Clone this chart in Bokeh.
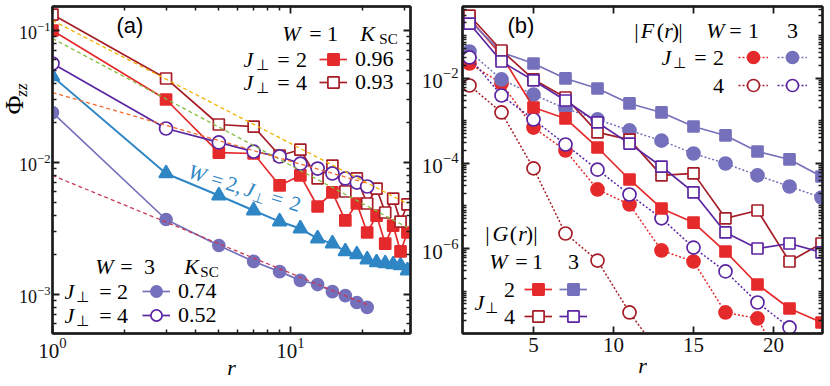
import math
from bokeh.plotting import figure
from bokeh.models import (Label, Legend, LegendItem, FixedTicker, LogAxis, LinearAxis, Range1d,
                          CustomJSTickFormatter, Title)
from bokeh.layouts import row
from bokeh.embed import file_html
from bokeh.resources import INLINE

# ---------------- panel (a): Phi_zz(r) ----------------
r_long = [1, 3, 5, 7, 9, 11, 13, 15, 17, 19, 21, 23, 25, 27, 29, 31]
r_short = [1, 3, 5, 7, 9, 11, 13, 15, 17, 19, 21]
phi_w1_j2 = [0.100, 0.030, 0.0119, 0.0117, 0.0067, 0.00798, 0.00464, 0.00593,
             0.00364, 0.00489, 0.00295, 0.00396, 0.00243, 0.00333, 0.00212, 0.00295]
phi_w1_j4 = [0.132, 0.0433, 0.0194, 0.0187, 0.0113, 0.0125, 0.00757, 0.00948,
             0.00603, 0.00757, 0.00489, 0.00635, 0.00418, 0.00533, 0.00357, 0.00481]
phi_w2_j2 = [0.0449, 0.00826, 0.00562, 0.00433, 0.00357, 0.00316, 0.00265, 0.00243,
             0.00212, 0.00201, 0.00184, 0.00175, 0.00172, 0.00169, 0.00166, 0.00152]
phi_w3_j2 = [0.0239, 0.0037, 0.00235, 0.00178, 0.00149, 0.00128, 0.00119, 0.00105,
             0.00098, 0.00087, 0.00080]
phi_w3_j4 = [0.0562, 0.0181, 0.0142, 0.0121, 0.0111, 0.0098, 0.0090, 0.00826,
             0.00757, 0.00705, 0.00658]
fit_r_long = [1, 31]
fit_r_short = [1, 21]
fit_w1_j4 = [0.119, 0.00487]    # K_SC = 0.93
fit_w1_j2 = [0.087, 0.00322]    # K_SC = 0.96
fit_w3_j4 = [0.0339, 0.00695]   # K_SC = 0.52
fit_w3_j2 = [0.00798, 0.000837] # K_SC = 0.74
ksc_w1 = ["0.96", "0.93"]
ksc_w3 = ["0.74", "0.52"]

# ---------------- panel (b): |G(r)|, |F(r)| ----------------
r_b = [1, 3, 5, 7, 9, 11, 13, 15, 17, 19, 21, 23]
G_w1_j2 = [0.25, 0.034, 2.04e-3, 1.13e-3, 2.35e-4, 4.17e-5, 8.7e-6, 4.07e-6, 8.5e-7, 1.43e-7, 3.9e-8, 1.83e-8]
G_w1_j4 = [0.294, 0.0445, 9.3e-3, 3.5e-3, 5.3e-4, 3.6e-4, 5.2e-5, 5.8e-5, 5.1e-6, 7.8e-6, 4.95e-7, 1.31e-6]
G_w3_j2 = [0.225, 0.040, 0.022, 9.8e-3, 5.7e-3, 2.54e-3, 1.56e-3, 7.3e-4, 4.5e-4, 1.89e-4, 1.23e-4, 4.9e-5]
G_w3_j4 = [0.191, 0.0245, 8.8e-3, 2.98e-3, 9.1e-4, 2.9e-4, 8.4e-5, 2.07e-5, 2.38e-6, 1.0e-6, 1.31e-6, 8.1e-7]
F_w1_j2 = [0.022, 7.5e-3, 6.9e-4, 2.0e-4, 2.43e-5, 1.08e-5, 9.0e-7, 4.95e-7, 3.15e-8, 2.28e-8, 9e-10]
F_w1_j4 = [6.7e-3, 1.56e-3, 7.6e-5, 2.25e-6, 5.2e-7, 3.15e-8, 3e-9]
F_w3_j2 = [0.042, 9.3e-3, 4.1e-3, 1.93e-3, 1.07e-3, 5.9e-4, 3.4e-4, 1.70e-4, 9.9e-5, 5.2e-5, 2.85e-5, 1.57e-5]
F_w3_j4 = [0.0305, 3.9e-3, 1.07e-3, 2.76e-4, 7.1e-5, 1.85e-5, 5.1e-6, 1.05e-6, 2.9e-7, 5.4e-8, 1.40e-8]

# ---------------- styling ----------------
RED = "#e52a2c"
DRED = "#a51d27"
SLATE = "#7570bb"
VIOLET = "#5b25a2"
BLUE = "#2f86c5"
YEL = "#f2b400"
GRN = "#84bd3c"
ORG = "#f26b2c"
CRIM = "#c73a55"
INK = "#1c1c1c"
SERIF = "Liberation Serif"
SANS = "Liberation Sans"

H = 386
FA = dict(left=52, right=410, top=6, bottom=333)
FB = dict(left=462, right=822, top=6, bottom=333)

def conv_a(px, py):
    return 10 ** ((px - 52) / 238.0), 10 ** (-1 - (py - 30) / 132.0)

def conv_b(px, py):
    return 5 + (px - 533) / 16.0, 10 ** (-6 + (248 - py) / 42.6)


def style_axis(ax, labels=True, fs="21px", standoff=4):
    ax.axis_line_width = 2.4
    ax.axis_line_color = INK
    ax.major_tick_in = 7
    ax.major_tick_out = 0
    ax.minor_tick_in = 4
    ax.minor_tick_out = 0
    ax.major_tick_line_width = 1.8
    ax.minor_tick_line_width = 1.5
    ax.major_tick_line_color = INK
    ax.minor_tick_line_color = INK
    if labels:
        ax.major_label_text_font = SERIF
        ax.major_label_text_font_size = fs
        ax.major_label_standoff = standoff
        ax.major_label_text_color = "#111111"
    else:
        ax.formatter = CustomJSTickFormatter(code="return ''")
        ax.major_label_text_font_size = "1px"
        ax.major_label_standoff = 0


def r_label(ax, standoff):
    ax.axis_label = "r"
    ax.axis_label_text_font = SERIF
    ax.axis_label_text_font_size = "22px"
    ax.axis_label_text_font_style = "italic"
    ax.axis_label_text_color = "black"
    ax.axis_label_standoff = standoff


def mtext(p, conv, y, segs, size=22, color="black", angle=0.0):
    for cx, txt, kind in segs:
        sub = kind in ("s", "si")
        fs = size * 0.68 if sub else size
        dy = 5 if sub else 0
        X, Y = conv(cx, y + dy)
        font = "DejaVu Sans" if txt == "⊥" else SERIF
        p.add_layout(Label(x=X, y=Y, text=txt, text_font=font,
                           text_font_size=f"{fs:.1f}px",
                           text_font_style="italic" if kind in ("i", "si") else "normal",
                           text_align="center", text_baseline="middle",
                           text_color=color, angle=angle))


def glyph_legend(p, frame, renderers, label, left_px, cy_px, gw=28, gh=30,
                 standoff=8, fs="22px"):
    vx = left_px - frame["left"]
    vy = frame["bottom"] - (cy_px + gh / 2.0)
    leg = Legend(items=[LegendItem(label=label, renderers=renderers)],
                 location=(vx, vy), orientation="vertical", padding=0, margin=0,
                 spacing=0, glyph_width=gw, glyph_height=gh, label_standoff=standoff,
                 label_text_font=SERIF, label_text_font_size=fs, label_text_color="black",
                 background_fill_alpha=0, border_line_alpha=0)
    p.add_layout(leg)


def series(p, x, y, color, marker, size, filled, dash="solid", lw=1.7):
    l = p.line(x, y, line_color=color, line_width=lw, line_dash=dash)
    s = p.scatter(x, y, marker=marker, size=size, line_color=color, line_width=1.7,
                  fill_color=color if filled else "white")
    return [l, s]

# ======================= panel (a) =======================
pa = figure(width=FA["right"] + 4, height=H, x_axis_type="log", y_axis_type="log",
            x_range=Range1d(conv_a(FA["left"], 0)[0], conv_a(FA["right"], 0)[0]),
            y_range=Range1d(conv_a(0, FA["bottom"])[1], conv_a(0, FA["top"])[1]),
            output_backend="svg", toolbar_location=None,
            min_border_left=FA["left"], min_border_right=4, min_border_top=FA["top"],
            min_border_bottom=H - FA["bottom"])
pa.xgrid.visible = False
pa.ygrid.visible = False
pa.outline_line_color = INK
pa.outline_line_width = 2
pa.background_fill_color = "white"
pa.border_fill_color = "white"

xa_tick = FixedTicker(ticks=[1, 10], minor_ticks=[2, 3, 4, 5, 6, 7, 8, 9, 20, 30])
ya_minor = [m * 10.0 ** e for e in (-4, -3, -2, -1) for m in range(2, 10)]
ya_tick = FixedTicker(ticks=[1e-3, 1e-2, 1e-1], minor_ticks=ya_minor)
pa.xaxis[0].ticker = xa_tick
pa.yaxis[0].ticker = ya_tick
style_axis(pa.xaxis[0])
style_axis(pa.yaxis[0], fs="18px", standoff=2)
r_label(pa.xaxis[0], -6)
top_a = LogAxis(ticker=xa_tick)
right_a = LogAxis(ticker=ya_tick)
style_axis(top_a, labels=False)
style_axis(right_a, labels=False)
pa.add_layout(top_a, "above")
pa.add_layout(right_a, "right")
# y-axis title Phi_zz as two thin side-panel titles (Phi inner, subscript outer)
pa.add_layout(Title(text="Φ", align="right", vertical_align="middle", offset=89,
                    standoff=-27, text_font=SERIF, text_font_size="26px",
                    text_font_style="normal", text_color="black"), "left")
pa.add_layout(Title(text="\nzz", align="right", vertical_align="middle", offset=77,
                    standoff=-39, text_font=SERIF, text_font_size="17px",
                    text_font_style="italic", text_color="black"), "left")

s_w3j2 = series(pa, r_short, phi_w3_j2, SLATE, "circle", 12, True)
s_w2 = series(pa, r_long, phi_w2_j2, BLUE, "triangle", 14, True, lw=2)
s_w1j2 = series(pa, r_long, phi_w1_j2, RED, "square", 11, True)
s_w1j4 = series(pa, r_long, phi_w1_j4, DRED, "square", 11, False)
s_w3j4 = series(pa, r_short, phi_w3_j4, VIOLET, "circle", 13, False)

pa.line(fit_r_long, fit_w1_j4, line_color=YEL, line_width=1.3, line_dash="4 3")
pa.line(fit_r_long, fit_w1_j2, line_color=GRN, line_width=1.3, line_dash="4 3")
pa.line(fit_r_short, fit_w3_j4, line_color=ORG, line_width=1.3, line_dash="4 3")
pa.line(fit_r_short, fit_w3_j2, line_color=CRIM, line_width=1.3, line_dash="4 3")

X, Y = conv_a(116, 25)
pa.add_layout(Label(x=X, y=Y, text="(a)", text_font=SANS, text_font_size="22px",
                    text_align="left", text_baseline="middle", text_color="black"))
mtext(pa, conv_a, 33, [(291, "W", "i"), (315, "=", "n"), (332, "1", "n"),
                       (367, "K", "i"), (388, "SC", "s")])
mtext(pa, conv_a, 59, [(248, "J", "i"), (262, "⊥", "s"), (283, "=", "n"), (301, "2", "n")])
mtext(pa, conv_a, 82, [(248, "J", "i"), (262, "⊥", "s"), (283, "=", "n"), (301, "4", "n")])
glyph_legend(pa, FA, s_w1j2, ksc_w1[0], 319, 59)
glyph_legend(pa, FA, s_w1j4, ksc_w1[1], 319, 82)
mtext(pa, conv_a, 266, [(104, "W", "i"), (126, "=", "n"), (149, "3", "n"),
                        (191, "K", "i"), (209, "SC", "s")])
mtext(pa, conv_a, 291, [(69, "J", "i"), (82, "⊥", "s"), (105, "=", "n"), (122, "2", "n")])
mtext(pa, conv_a, 315, [(69, "J", "i"), (82, "⊥", "s"), (105, "=", "n"), (122, "4", "n")])
glyph_legend(pa, FA, s_w3j2, ksc_w3[0], 142, 291)
glyph_legend(pa, FA, s_w3j4, ksc_w3[1], 142, 315)
ang = 0.30
ux, uy = math.cos(ang), math.sin(ang)
nx, ny = -uy, ux
sx0, sy0 = 187, 170
for d, txt, kind in [(10, "W", "i"), (31, "=", "n"), (49, "2,", "n"), (65, "J", "i"),
                     (76, "⊥", "s"), (94, "=", "n"), (113, "2", "n")]:
    off = 5 if kind == "s" else 0
    px = sx0 + d * ux + off * nx
    py = sy0 + d * uy + off * ny
    X, Y = conv_a(px, py)
    pa.add_layout(Label(x=X, y=Y, text=txt,
                        text_font="DejaVu Sans" if txt == "⊥" else SERIF,
                        text_font_size="14px" if kind == "s" else "21px",
                        text_font_style="italic" if kind == "i" else "normal",
                        text_align="center", text_baseline="middle",
                        text_color=BLUE, angle=-ang))

# ======================= panel (b) =======================
pb = figure(width=(FB["left"] - FA["right"] - 4) + (FB["right"] - FB["left"]) + 4, height=H,
            y_axis_type="log",
            x_range=Range1d(conv_b(FB["left"], 0)[0], conv_b(FB["right"], 0)[0]),
            y_range=Range1d(conv_b(0, FB["bottom"])[1], conv_b(0, FB["top"])[1]),
            output_backend="svg", toolbar_location=None,
            min_border_left=FB["left"] - FA["right"] - 4, min_border_right=4,
            min_border_top=FB["top"], min_border_bottom=H - FB["bottom"])
pb.xgrid.visible = False
pb.ygrid.visible = False
pb.outline_line_color = INK
pb.outline_line_width = 2
pb.background_fill_color = "white"
pb.border_fill_color = "white"

xb_tick = FixedTicker(ticks=[5, 10, 15, 20], minor_ticks=[])
yb_minor = [m * 10.0 ** e for e in range(-9, 0) for m in range(1, 10)
            if not (m == 1 and e in (-8, -6, -4, -2))]
yb_tick = FixedTicker(ticks=[1e-8, 1e-6, 1e-4, 1e-2], minor_ticks=yb_minor)
pb.xaxis[0].ticker = xb_tick
pb.yaxis[0].ticker = yb_tick
style_axis(pb.xaxis[0])
style_axis(pb.yaxis[0])
r_label(pb.xaxis[0], -2)
top_b = LinearAxis(ticker=xb_tick)
right_b = LogAxis(ticker=yb_tick)
style_axis(top_b, labels=False)
style_axis(right_b, labels=False)
pb.add_layout(top_b, "above")
pb.add_layout(right_b, "right")

DOT = "2 2"
f_w1j2 = series(pb, r_b[:len(F_w1_j2)], F_w1_j2, RED, "circle", 13, True, dash=DOT, lw=1.5)
f_w3j2 = series(pb, r_b[:len(F_w3_j2)], F_w3_j2, SLATE, "circle", 13, True, dash=DOT, lw=1.5)
f_w1j4 = series(pb, r_b[:len(F_w1_j4)], F_w1_j4, DRED, "circle", 13, False, dash=DOT, lw=1.5)
f_w3j4 = series(pb, r_b[:len(F_w3_j4)], F_w3_j4, VIOLET, "circle", 13, False, dash=DOT, lw=1.5)
g_w1j2 = series(pb, r_b, G_w1_j2, RED, "square", 11, True)
g_w3j2 = series(pb, r_b, G_w3_j2, SLATE, "square", 11, True)
g_w1j4 = series(pb, r_b, G_w1_j4, DRED, "square", 11, False)
g_w3j4 = series(pb, r_b, G_w3_j4, VIOLET, "square", 11, False)

X, Y = conv_b(507, 25)
pb.add_layout(Label(x=X, y=Y, text="(b)", text_font=SANS, text_font_size="22px",
                    text_align="left", text_baseline="middle", text_color="black"))
mtext(pb, conv_b, 30, [(636, "|", "n"), (647, "F", "i"), (660, "(", "n"), (668, "r", "i"),
                       (675, ")", "n"), (680, "|", "n"),
                       (715, "W", "i"), (735, "=", "n"), (753, "1", "n"), (792, "3", "n")])
mtext(pb, conv_b, 57, [(666, "J", "i"), (679, "⊥", "s"), (700, "=", "n"), (718, "2", "n")])
mtext(pb, conv_b, 85, [(718, "4", "n")])
glyph_legend(pb, FB, f_w1j2, " ", 738, 57, gw=30, gh=32, standoff=0, fs="4px")
glyph_legend(pb, FB, f_w3j2, " ", 777, 57, gw=30, gh=32, standoff=0, fs="4px")
glyph_legend(pb, FB, f_w1j4, " ", 738, 85, gw=30, gh=32, standoff=0, fs="4px")
glyph_legend(pb, FB, f_w3j4, " ", 777, 85, gw=30, gh=32, standoff=0, fs="4px")
mtext(pb, conv_b, 233, [(487, "|", "n"), (500, "G", "i"), (513, "(", "n"), (522, "r", "i"),
                        (529, ")", "n"), (535, "|", "n")])
mtext(pb, conv_b, 261, [(498, "W", "i"), (521, "=", "n"), (537, "1", "n"), (573, "3", "n")])
mtext(pb, conv_b, 302, [(479, "J", "i"), (491, "⊥", "s")])
mtext(pb, conv_b, 289, [(509, "2", "n")])
mtext(pb, conv_b, 316, [(509, "4", "n")])
glyph_legend(pb, FB, g_w1j2, " ", 524, 289, gw=28, gh=30, standoff=0, fs="4px")
glyph_legend(pb, FB, g_w3j2, " ", 559, 289, gw=28, gh=30, standoff=0, fs="4px")
glyph_legend(pb, FB, g_w1j4, " ", 524, 316, gw=28, gh=30, standoff=0, fs="4px")
glyph_legend(pb, FB, g_w3j4, " ", 559, 316, gw=28, gh=30, standoff=0, fs="4px")

layout = row(pa, pb)
open("out.html", "w").write(file_html(layout, INLINE))
